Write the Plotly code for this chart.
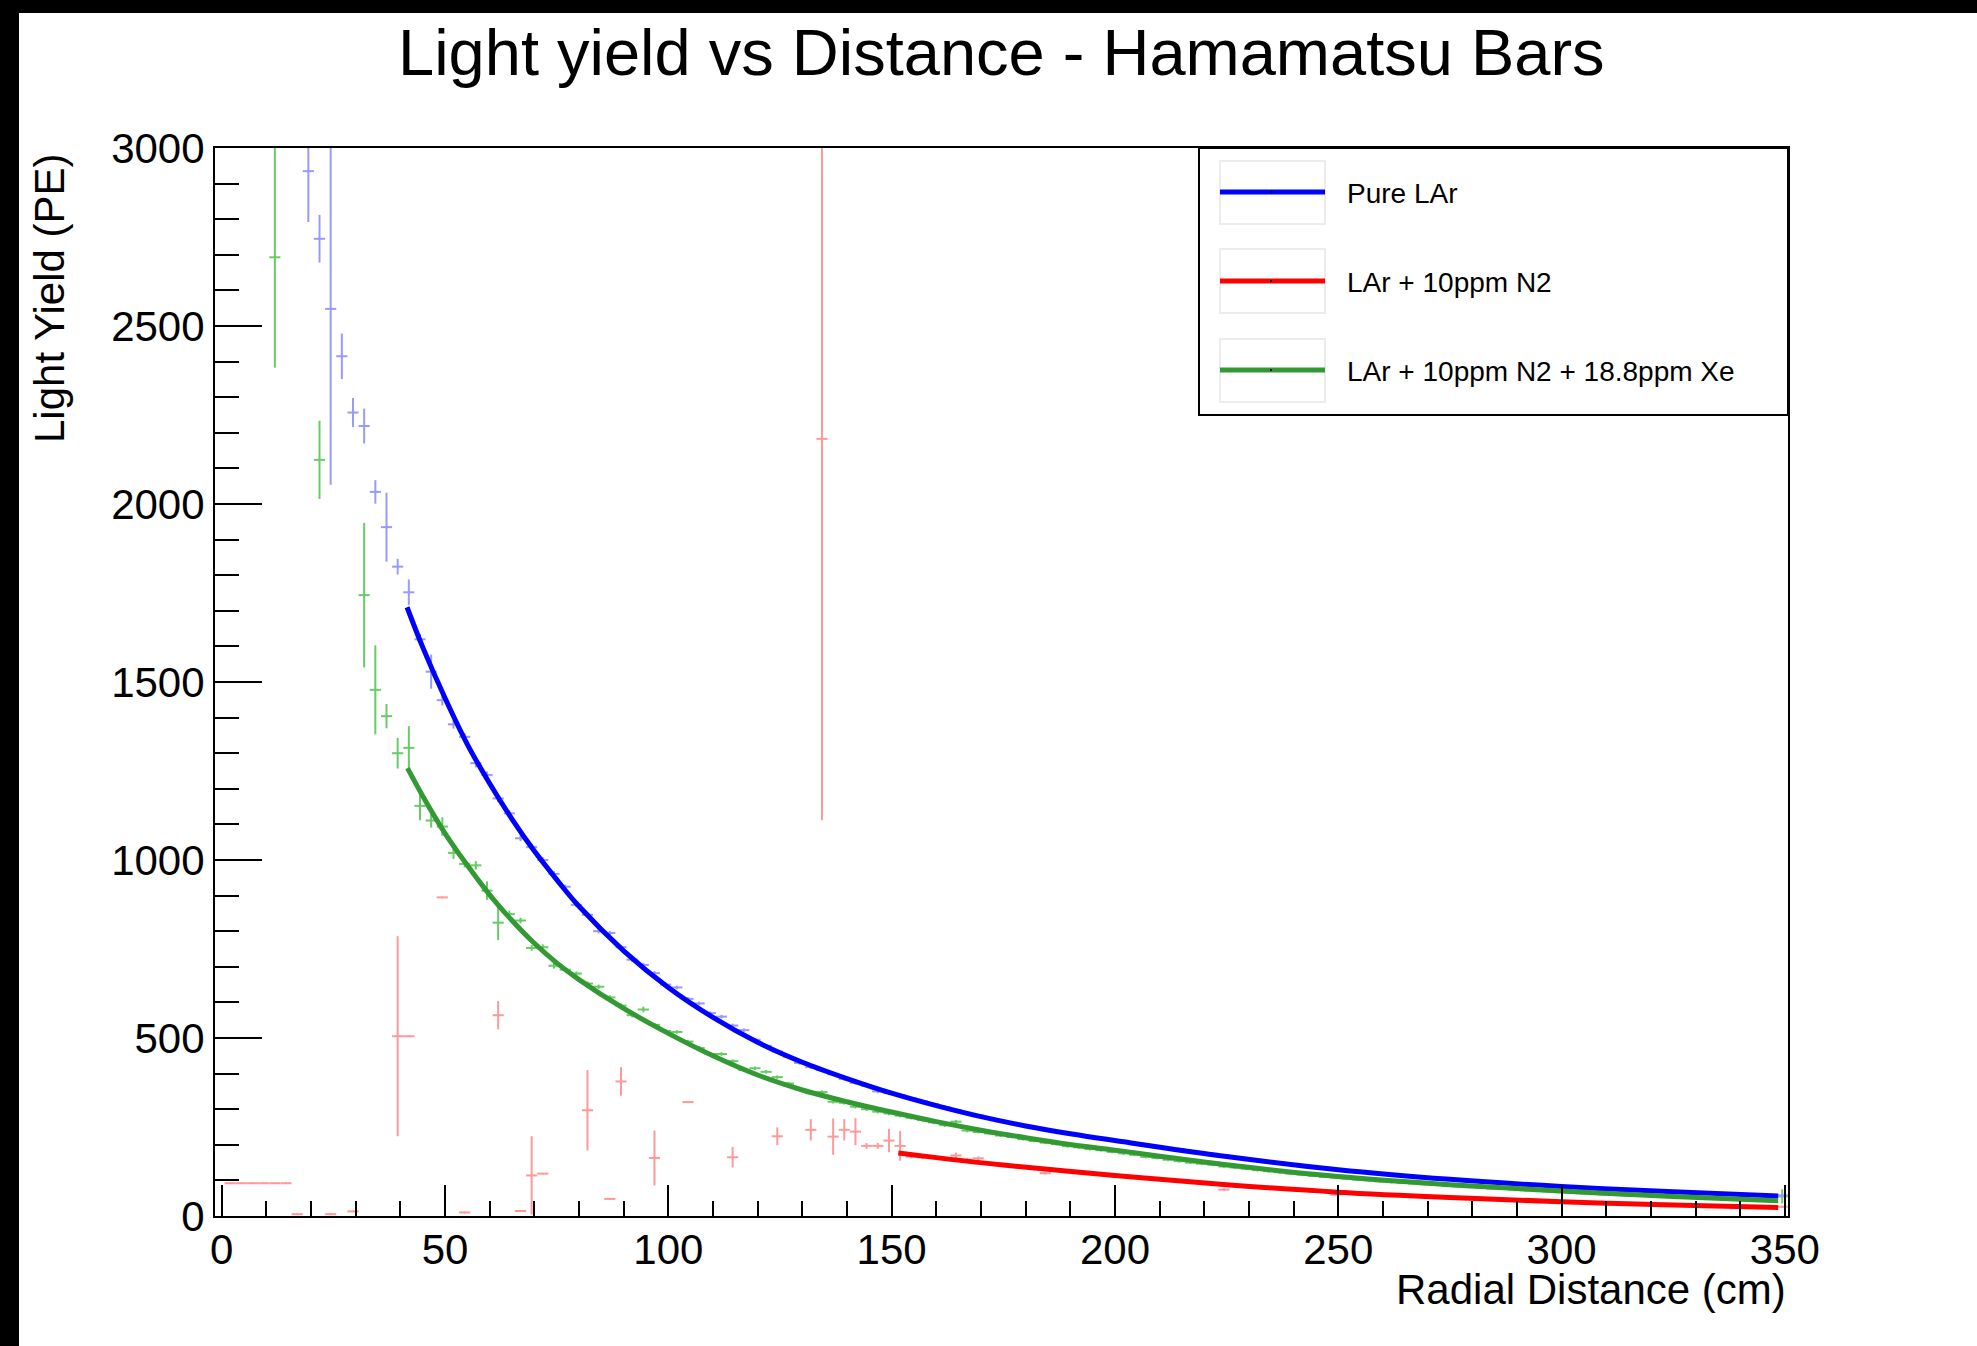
import plotly.graph_objects as go

# ---------------- data ----------------
# bin centres shared by the blue and green tails
tail_x = [
    44.4, 46.9, 49.4, 51.9, 54.4, 56.9, 59.4, 61.9, 64.4, 66.9,
    69.4, 71.9, 74.4, 76.9, 79.4, 81.9, 84.4, 86.9, 89.4, 91.9,
    94.4, 96.9, 99.4, 101.9, 104.4, 106.9, 109.4, 111.9, 114.4, 116.9,
    119.4, 121.9, 124.4, 126.9, 129.4, 131.9, 134.4, 136.9, 139.4, 141.9,
    144.4, 146.9, 149.4, 151.9, 154.4, 156.9, 159.4, 161.9, 164.4, 166.9,
    169.4, 171.9, 174.4, 176.9, 179.4, 181.9, 184.4, 186.9, 189.4, 191.9,
    194.4, 196.9, 199.4, 201.9, 204.4, 206.9, 209.4, 211.9, 214.4, 216.9,
    219.4, 221.9, 224.4, 226.9, 229.4, 231.9, 234.4, 236.9, 239.4, 241.9,
    244.4, 246.9, 249.4, 251.9, 254.4, 256.9, 259.4, 261.9, 264.4, 266.9,
    269.4, 271.9, 274.4, 276.9, 279.4, 281.9, 284.4, 286.9, 289.4, 291.9,
    294.4, 296.9, 299.4, 301.9, 304.4, 306.9, 309.4, 311.9, 314.4, 316.9,
    319.4, 321.9, 324.4, 326.9, 329.4, 331.9, 334.4, 336.9, 339.4, 341.9,
    344.4, 346.9, 349.4]

# Pure LAr
blue_x = [19.4, 21.9, 24.4, 26.9, 29.4, 31.9, 34.4, 36.9, 39.4, 41.9] + tail_x
blue_y = [
    2935, 2745, 2548, 2415, 2257, 2219, 2034, 1935, 1824, 1752,
    1620, 1529, 1449, 1381, 1346, 1272, 1239, 1173, 1131, 1061,
    1036, 1000, 961, 925, 874, 846, 800, 795, 755, 720,
    705, 682, 650, 642, 610, 597, 570, 560, 535, 522,
    495, 478, 462, 447, 430, 418, 410, 398, 385, 374,
    366, 350, 345, 340, 330, 322, 314, 306, 298, 290,
    282, 275, 266, 262, 254, 250, 242, 238, 233, 226,
    222, 218, 212, 210, 205, 200, 196, 190, 188, 182,
    178, 175, 170, 165, 162, 156, 153, 150, 146, 142,
    138, 136, 131, 128, 126, 123, 120, 116, 114, 111,
    108, 106, 104, 101, 99, 97, 95, 93, 91, 89,
    88, 85, 84, 82, 80, 79, 77, 76, 74, 73,
    71, 70, 68, 67, 66, 65, 63, 62, 61, 60,
    59, 57, 58]
blue_ey = [
    143, 67, 494, 64, 41, 49, 33, 97, 22, 36,
    15, 48, 15, 12, 10, 12, 10, 10, 8, 8,
    8, 8, 8, 6, 6, 6, 6, 6, 6, 6,
    6, 6, 6, 5, 5, 5, 5, 5, 5, 5,
    5, 5, 5, 5, 5, 5, 5, 5, 5, 5,
    5, 5, 5, 5, 5, 5, 5, 5, 5, 5,
    4, 4, 4, 4, 4, 4, 4, 4, 4, 4,
    4, 4, 4, 4, 4, 4, 4, 4, 4, 4,
    4, 4, 4, 4, 4, 4, 4, 4, 4, 4,
    3, 3, 3, 3, 3, 3, 3, 3, 3, 3,
    3, 3, 3, 3, 3, 3, 3, 3, 3, 3,
    3, 3, 3, 3, 3, 3, 3, 3, 3, 3,
    3, 3, 3, 3, 3, 3, 3, 3, 3, 3,
    3, 3, 6]

# LAr + 10ppm N2 + 18.8ppm Xe
green_x = [11.9, 21.9, 31.9, 34.4, 36.9, 39.4, 41.9] + tail_x
green_y = [
    2693, 2124, 1744, 1478, 1404, 1300, 1315,
    1152, 1111, 1094, 1020, 989, 985, 914, 824, 848, 830,
    753, 755, 703, 692, 681, 653, 644, 614, 591, 564,
    580, 537, 520, 517, 490, 472, 455, 455, 435, 410,
    415, 405, 390, 372, 356, 345, 348, 321, 318, 307,
    300, 293, 288, 282, 276, 270, 263, 255, 265, 240,
    236, 232, 226, 222, 216, 211, 206, 202, 196, 193,
    188, 185, 180, 176, 172, 166, 163, 158, 154, 150,
    147, 144, 139, 136, 133, 129, 126, 123, 119, 116,
    113, 110, 108, 105, 102, 100, 97, 95, 93, 91,
    89, 87, 85, 83, 81, 79, 77, 76, 74, 72,
    70, 69, 67, 66, 64, 63, 61, 60, 58, 57,
    56, 54, 53, 52, 51, 49, 48, 47, 46, 45,
    44, 42, 55]
green_ey = [
    310, 110, 203, 125, 34, 43, 61,
    40, 20, 26, 17, 10, 12, 26, 49, 10, 8,
    8, 8, 8, 6, 6, 6, 6, 6, 6, 6,
    8, 5, 5, 5, 5, 5, 5, 5, 5, 5,
    5, 5, 5, 5, 5, 5, 5, 5, 5, 5,
    5, 5, 5, 5, 5, 5, 5, 5, 5, 5,
    4, 4, 4, 4, 4, 4, 4, 4, 4, 4,
    4, 4, 4, 4, 4, 4, 4, 4, 4, 4,
    4, 4, 4, 4, 4, 4, 4, 4, 4, 4,
    3, 3, 3, 3, 3, 3, 3, 3, 3, 3,
    3, 3, 3, 3, 3, 3, 3, 3, 3, 3,
    3, 3, 3, 3, 3, 3, 3, 3, 3, 3,
    3, 3, 3, 3, 3, 3, 3, 3, 3, 3,
    3, 3, 20]

# LAr + 10ppm N2
red_x = [
    1.9, 4.4, 6.9, 9.4, 11.9, 14.4, 16.9, 24.4, 29.4, 39.4,
    41.9, 49.4, 54.4, 61.9, 66.9, 69.4, 71.9, 81.9, 86.9, 89.4,
    96.9, 104.4, 114.4, 124.4, 131.9, 134.4, 136.9, 139.4, 141.9, 144.4,
    146.9, 149.4, 151.9, 154.4, 156.9, 159.4, 161.9, 164.4, 166.9, 169.4,
    171.9, 174.4, 176.9, 179.4, 181.9, 184.4, 186.9, 189.4, 191.9, 194.4,
    196.9, 199.4, 201.9, 204.4, 206.9, 209.4, 211.9, 214.4, 216.9, 219.4,
    221.9, 224.4, 226.9, 229.4, 231.9, 234.4, 236.9, 239.4, 241.9, 244.4,
    246.9, 249.4, 251.9, 254.4, 256.9, 259.4, 261.9, 264.4, 266.9, 269.4,
    271.9, 274.4, 276.9, 279.4, 281.9, 284.4, 286.9, 289.4, 291.9, 294.4,
    296.9, 299.4, 301.9, 304.4, 306.9, 309.4, 311.9, 314.4, 316.9, 319.4,
    321.9, 324.4, 326.9, 329.4, 331.9, 334.4, 336.9, 339.4, 341.9, 344.4,
    346.9, 349.4]
red_y = [
    92, 92, 92, 92, 92, 92, 5, 5, 13, 505,
    505, 895, 10, 564, 14, 114, 119, 297, 48, 378,
    163, 320, 165, 224, 242, 2183, 223, 242, 237, 197,
    197, 212, 197, 167, 165, 165, 160, 170, 158, 162,
    148, 143, 140, 136, 132, 120, 127, 124, 121, 119,
    116, 113, 111, 108, 106, 103, 101, 98, 96, 94,
    91, 74, 87, 85, 82, 80, 78, 76, 74, 72,
    70, 60, 66, 64, 63, 61, 59, 58, 56, 55,
    53, 52, 50, 49, 48, 47, 45, 44, 43, 42,
    41, 40, 39, 38, 37, 36, 35, 34, 33, 32,
    32, 31, 30, 29, 28, 28, 27, 26, 25, 25,
    24, 26]
red_ey = [
    0, 0, 0, 0, 0, 0, 0, 0, 0, 281,
    0, 0, 0, 40, 0, 110, 0, 113, 0, 40,
    77, 0, 29, 25, 30, 1071, 51, 30, 38, 8,
    8, 33, 42, 5, 5, 5, 5, 8, 5, 5,
    4, 4, 4, 4, 4, 4, 4, 4, 4, 4,
    4, 4, 4, 4, 4, 4, 4, 4, 4, 4,
    4, 4, 4, 4, 4, 4, 4, 4, 4, 4,
    3, 3, 3, 3, 3, 3, 3, 3, 3, 3,
    3, 3, 3, 3, 3, 3, 3, 3, 3, 3,
    3, 3, 3, 3, 3, 3, 3, 3, 3, 3,
    3, 3, 3, 3, 3, 3, 3, 3, 3, 3,
    3, 3]

half_bin = 1.25

# fitted curves
blue_fit_x = [41.5, 45, 50, 55, 60, 65, 70, 75, 80, 90, 100, 110, 120, 130, 140,
              150, 160, 170, 180, 190, 200, 225, 250, 275, 300, 325, 348.5]
blue_fit_y = [1710, 1598, 1455, 1325, 1215, 1115, 1025, 945, 870, 745, 642, 558, 488, 432, 386,
              345, 310, 279, 253, 231, 212, 167, 130, 103, 83, 68, 56]
green_fit_x = [41.6, 45, 50, 55, 60, 65, 70, 75, 80, 90, 100, 110, 120, 130, 140,
               150, 160, 170, 180, 190, 200, 225, 250, 275, 300, 325, 348.5]
green_fit_y = [1258, 1180, 1075, 985, 902, 830, 766, 711, 664, 583, 513, 450, 396, 354, 321,
               292, 265, 241, 220, 201, 185, 144, 111, 88, 70, 55, 43]
red_fit_x = [151.5, 160, 175, 200, 225, 250, 275, 300, 325, 348.5]
red_fit_y = [177, 164, 143, 114, 88, 67, 52, 40, 31, 24]

series_names = ["Pure LAr", "LAr + 10ppm N2", "LAr + 10ppm N2 + 18.8ppm Xe"]
fit_colors = ["#0000ff", "#ff0000", "#339933"]
point_colors = ["#9999ff", "#ff9999", "#66cc66"]

title_text = "Light yield vs Distance - Hamamatsu Bars"
x_title = "Radial Distance (cm)"
y_title = "Light Yield (PE)"

# ---------------- figure ----------------
W, H = 1977, 1346
L, R, T, B = 215, 189, 148, 130
PW, PH = W - L - R, H - T - B


def px(xp):
    return (xp - L) / PW


def py(yp):
    return (H - B - yp) / PH


FONT = "Liberation Sans, Arial, Helvetica, sans-serif"

fig = go.Figure()


def add_points(x, y, ey, color):
    fig.add_trace(go.Scatter(
        x=x, y=y, mode="markers",
        marker=dict(size=2, color=color),
        error_x=dict(type="constant", value=half_bin, color=color, thickness=2, width=0),
        error_y=dict(type="data", array=ey, color=color, thickness=2, width=0, visible=True),
        showlegend=False, hoverinfo="x+y"))


add_points(green_x, green_y, green_ey, point_colors[2])
add_points(blue_x, blue_y, blue_ey, point_colors[0])
add_points(red_x, red_y, red_ey, point_colors[1])

for fx, fy, c, n in [(blue_fit_x, blue_fit_y, fit_colors[0], series_names[0]),
                     (red_fit_x, red_fit_y, fit_colors[1], series_names[1]),
                     (green_fit_x, green_fit_y, fit_colors[2], series_names[2])]:
    fig.add_trace(go.Scatter(x=fx, y=fy, mode="lines", name=n,
                             line=dict(color=c, width=5, shape="spline", smoothing=1.0),
                             showlegend=False))

shapes = []
# black frame bands of the original canvas
shapes.append(dict(type="rect", xref="paper", yref="paper", x0=px(0), x1=px(19), y0=py(H), y1=py(0),
                   fillcolor="black", line=dict(width=0), layer="above"))
shapes.append(dict(type="rect", xref="paper", yref="paper", x0=px(0), x1=px(W), y0=py(13), y1=py(0),
                   fillcolor="black", line=dict(width=0), layer="above"))

# legend box
shapes.append(dict(type="rect", xref="paper", yref="paper", x0=px(1199), x1=px(1788), y0=py(415), y1=py(148),
                   fillcolor="white", line=dict(color="black", width=2), layer="above"))
annotations = []
entry_line_y = [192, 281, 370]
entry_box = [(161, 224), (249, 313), (339, 402)]
for i in range(3):
    b0, b1 = entry_box[i]
    shapes.append(dict(type="rect", xref="paper", yref="paper", x0=px(1220), x1=px(1325),
                       y0=py(b1), y1=py(b0), line=dict(color="#ececec", width=2), layer="above"))
    shapes.append(dict(type="line", xref="paper", yref="paper", x0=px(1220), x1=px(1325),
                       y0=py(entry_line_y[i]), y1=py(entry_line_y[i]),
                       line=dict(color=fit_colors[i], width=5), layer="above"))
    shapes.append(dict(type="rect", xref="paper", yref="paper", x0=px(1270), x1=px(1272),
                       y0=py(entry_line_y[i] + 1), y1=py(entry_line_y[i] - 1),
                       fillcolor="black", line=dict(width=0), layer="above"))
    annotations.append(dict(text=series_names[i], xref="paper", yref="paper",
                            x=px(1345), y=py(entry_line_y[i] + 1), xanchor="left", yanchor="middle",
                            showarrow=False, font=dict(size=28, color="black", family=FONT)))

annotations.append(dict(text=title_text, xref="paper", yref="paper", x=px(1001), y=py(53),
                        xanchor="center", yanchor="middle", showarrow=False,
                        font=dict(size=65, color="black", family=FONT)))
annotations.append(dict(text=x_title, xref="paper", yref="paper", x=px(1788), y=py(1289),
                        xanchor="right", yanchor="middle", showarrow=False,
                        font=dict(size=42, color="black", family=FONT)))
annotations.append(dict(text=y_title, xref="paper", yref="paper", x=px(50), y=py(151),
                        xanchor="center", yanchor="top", textangle=-90, showarrow=False,
                        font=dict(size=42, color="black", family=FONT)))

fig.update_layout(
    width=W, height=H,
    margin=dict(l=L, r=R, t=T, b=B, pad=0),
    paper_bgcolor="white", plot_bgcolor="white",
    font=dict(family=FONT, color="black"),
    shapes=shapes, annotations=annotations,
    showlegend=False,
)
fig.update_xaxes(
    range=[-1.5, 350.7], tick0=0, dtick=50, showgrid=False, zeroline=False,
    showline=True, linecolor="black", linewidth=2, mirror=True,
    ticks="inside", ticklen=31, tickwidth=2, tickcolor="black",
    ticklabelstandoff=-4,
    tickfont=dict(size=42, family=FONT, color="black"),
    minor=dict(dtick=10, ticks="inside", ticklen=15, tickwidth=2, tickcolor="black", showgrid=False),
)
fig.update_yaxes(
    range=[0, 3000], tick0=0, dtick=500, showgrid=False, zeroline=False,
    showline=True, linecolor="black", linewidth=2, mirror=True,
    ticks="inside", ticklen=47, tickwidth=2, tickcolor="black",
    tickfont=dict(size=42, family=FONT, color="black"),
    minor=dict(dtick=100, ticks="inside", ticklen=24, tickwidth=2, tickcolor="black", showgrid=False),
)

fig.write_html("out.html")
